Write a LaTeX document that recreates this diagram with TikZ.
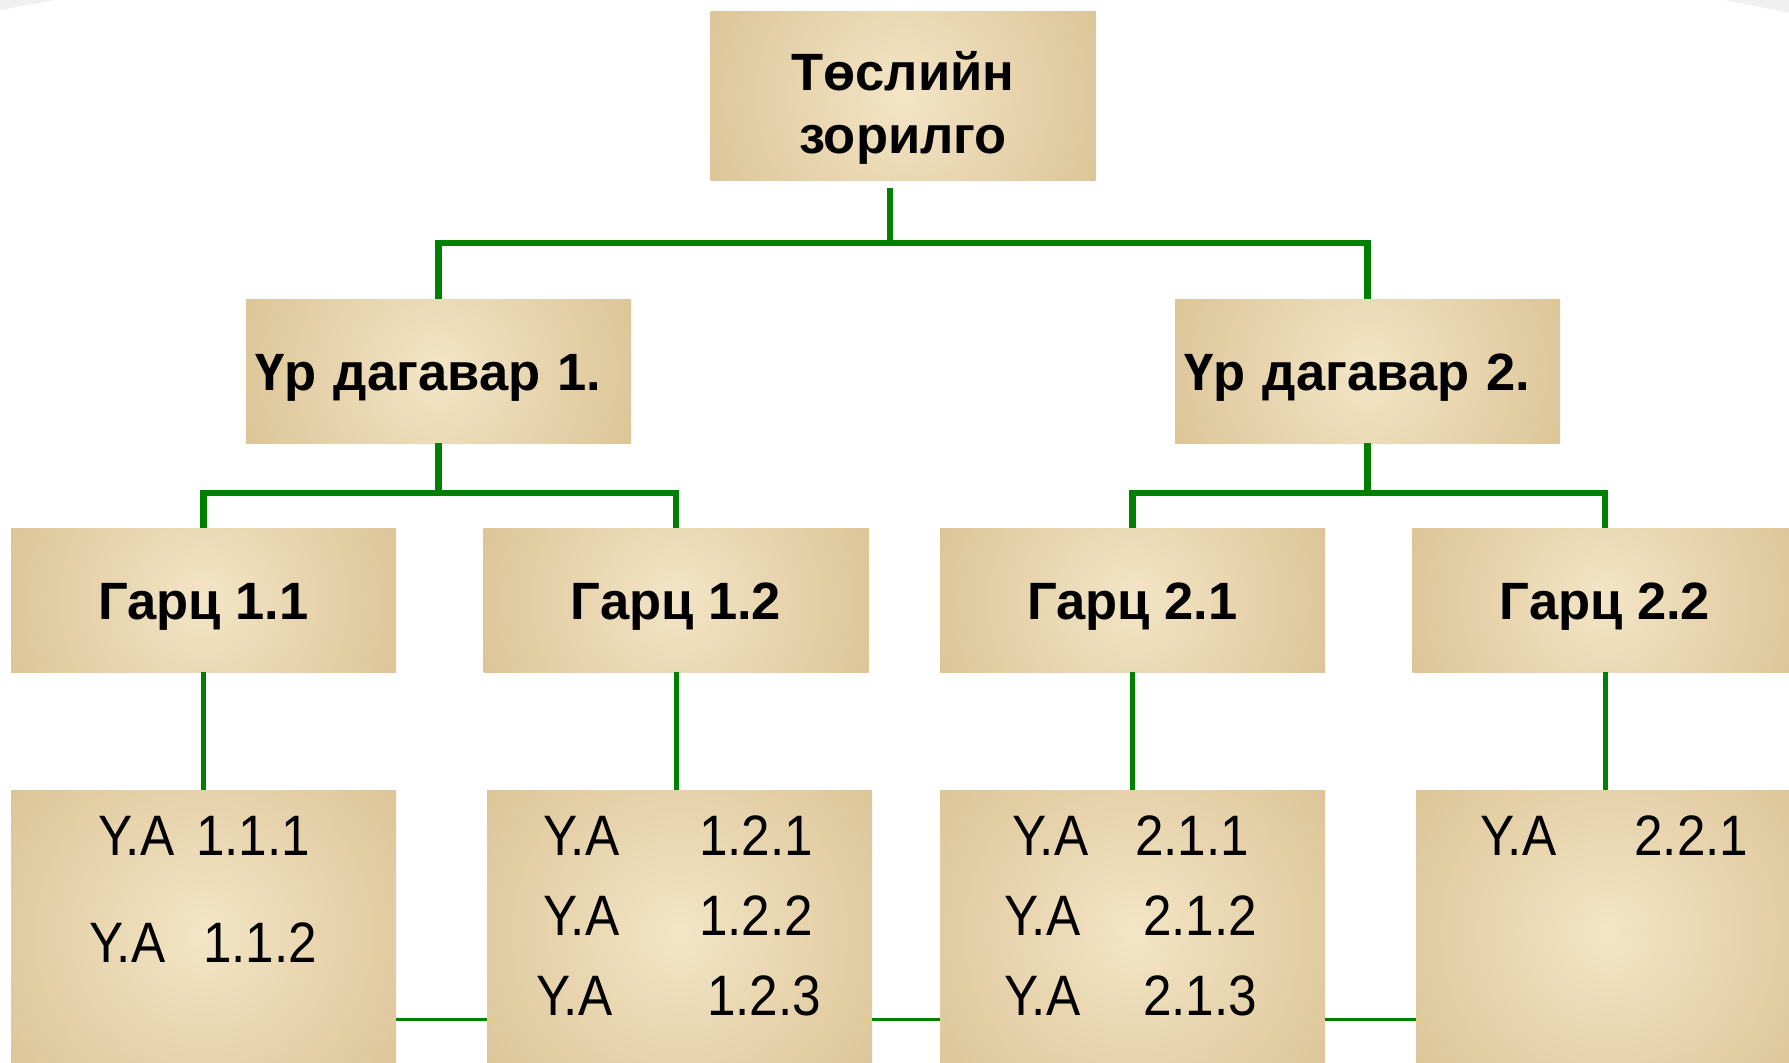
\documentclass[tikz,border=0pt]{standalone}
\usepackage{fontspec}
\setmainfont{Liberation Sans}
\newfontfamily\narrowfont[FakeStretch=0.9]{Liberation Sans}
\definecolor{conngreen}{RGB}{0,128,0}
\definecolor{boxlight}{RGB}{243,229,198}
\definecolor{boxdark}{RGB}{220,196,150}
\begin{document}
\begin{tikzpicture}[x=1pt,y=-1pt,
  box/.style={rectangle, inner sep=0pt, fill=boxdark, minimum width=385pt,
    path picture={\shade[inner color=boxlight, outer color=boxdark]
      (path picture bounding box.center) circle (#1);}},
  box/.default=210pt,
  head/.style={font=\fontsize{52.5}{64}\selectfont\bfseries, text height=38pt, text depth=0pt},
  conn/.style={draw=conngreen, line width=6.5pt, line join=miter},
  thinconn/.style={draw=conngreen, line width=3pt},
  ya/.style={font=\narrowfont\fontsize{57}{68}\selectfont, anchor=base west, inner sep=0pt},
]
\useasboundingbox (0,0) rectangle (1789,1063);
\clip (0,0) rectangle (1789,1063);
\fill[white] (0,0) rectangle (1789,1063);
\fill[gray!12] (0,0) -- (55,0) -- (0,10) -- cycle;
\fill[gray!12] (1725,0) -- (1789,0) -- (1789,13) -- cycle;

% boxes
\node[box=215pt, minimum height=169pt] (goal) at (903,95.5) {};
\node[font=\fontsize{52.5}{63}\selectfont\bfseries, align=center, anchor=north, inner sep=0pt] (goaltext) at (903,51) {Төслийн\\зорилго};

\node[box, minimum height=144pt, head, text width=367pt, inner xsep=9pt, align=left] (r1) at (438.5,371) {Үр дагавар 1.};
\node[box, minimum height=144pt, head, text width=367pt, inner xsep=9pt, align=left] (r2) at (1367.5,371) {Үр дагавар 2.};

\node[box, minimum height=144pt, head] (g11) at (203.5,600) {Гарц 1.1};
\node[box, minimum height=144pt, head] (g12) at (676,600) {Гарц 1.2};
\node[box, minimum height=144pt, head] (g21) at (1132.5,600) {Гарц 2.1};
\node[box, minimum height=144pt, head] (g22) at (1605,600) {Гарц 2.2};

\node[box=245pt, minimum height=285pt] (y11) at (203.5,932.5) {};
\node[box=245pt, minimum height=285pt] (y12) at (679.5,932.5) {};
\node[box=245pt, minimum height=285pt] (y21) at (1132.5,932.5) {};
\node[box=245pt, minimum height=285pt] (y22) at (1608.5,932.5) {};

% connectors
\coordinate (busA) at (0,243);
\coordinate (busL) at (0,493);
\coordinate (busB) at (0,1019);
\coordinate (t1) at ([xshift=-13pt,yshift=-8pt]goal.south);
\draw[conn] (t1) -- (t1 |- busA);
\draw[conn] (r1.north) -- (r1.north |- busA) -| (r2.north);
\draw[conn] (r1.south) -- (r1.south |- busL);
\draw[conn] (g11.north) -- (g11.north |- busL) -| (g12.north);
\draw[conn] (r2.south) -- (r2.south |- busL);
\draw[conn] (g21.north) -- (g21.north |- busL) -| (g22.north);

\draw[conn, line width=5pt] (g11.south) -- (g11.south |- y11.north);
\draw[conn, line width=5pt] (g12.south) -- (g12.south |- y12.north);
\draw[conn, line width=5pt] (g21.south) -- (g21.south |- y21.north);
\draw[conn, line width=5pt] (g22.south) -- (g22.south |- y22.north);

\draw[thinconn] (y11.east |- busB) -- (y12.west |- busB);
\draw[thinconn] (y12.east |- busB) -- (y21.west |- busB);
\draw[thinconn] (y21.east |- busB) -- (y22.west |- busB);

% activity texts
\node[ya] (a111) at (98,855) {Y.A};
\node[ya] (n111) at (196,855) {1.1.1};
\node[ya] (a112) at (89,962) {Y.A};
\node[ya] (n112) at (203,962) {1.1.2};

\node[ya] (a121) at (543,855) {Y.A};
\node[ya] (n121) at (699,855) {1.2.1};
\node[ya] (a122) at (543,935) {Y.A};
\node[ya] (n122) at (699,935) {1.2.2};
\node[ya] (a123) at (536,1015) {Y.A};
\node[ya] (n123) at (707,1015) {1.2.3};

\node[ya] (a211) at (1012,855) {Y.A};
\node[ya] (n211) at (1135,855) {2.1.1};
\node[ya] (a212) at (1004,935) {Y.A};
\node[ya] (n212) at (1143,935) {2.1.2};
\node[ya] (a213) at (1004,1015) {Y.A};
\node[ya] (n213) at (1143,1015) {2.1.3};

\node[ya] (a221) at (1480,855) {Y.A};
\node[ya] (n221) at (1634,855) {2.2.1};
\end{tikzpicture}
\end{document}
